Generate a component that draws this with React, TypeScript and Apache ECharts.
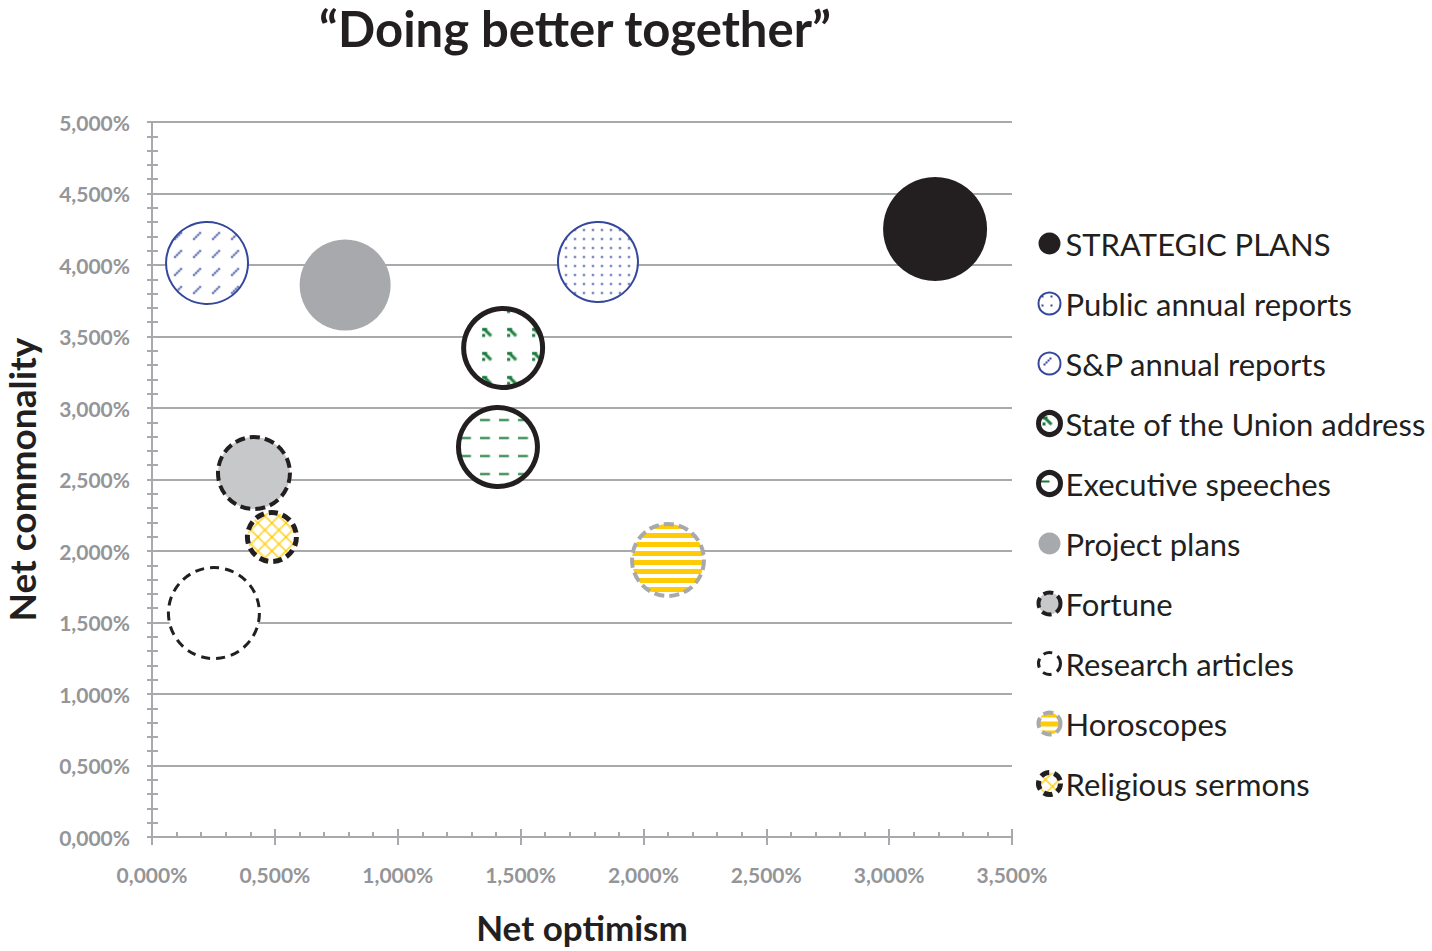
import { useEffect, useRef } from 'react'
import * as echarts from 'echarts'

// one bubble per source
const names = [
  'STRATEGIC PLANS',
  'Public annual reports',
  'S&P annual reports',
  'State of the Union address',
  'Executive speeches',
  'Project plans',
  'Fortune',
  'Research articles',
  'Horoscopes',
  'Religious sermons',
]
const optimism = [3.187, 1.815, 0.224, 1.429, 1.408, 0.786, 0.415, 0.252, 2.1, 0.488]
const commonality = [4.252, 4.021, 4.014, 3.42, 2.727, 3.86, 2.545, 1.566, 1.937, 2.098]
const bubbleSize = [108.2, 64, 67.2, 62.4, 62.4, 82.8, 51.8, 82.8, 51.8, 24]

const xMax = 3.5
const yMax = 5
const step = 0.5

const BLACK = '#231f20'
const GRAY = '#a7a9ac'
const LIGHT = '#c7c8ca'
const BLUE = '#34479c'
const GREEN = '#17793a'
const YELLOW = '#ffcb05'
const AXIS = '#a7a9ac'
const FONT = 'Lato'

const fmt = (v: number) => v.toFixed(3).replace('.', ',') + '%'
const diameter = (s: number) => Math.sqrt(s) * 10

const tile = (w: number, h: number, draw: (ctx: CanvasRenderingContext2D) => void) => {
  const c = document.createElement('canvas')
  c.width = w
  c.height = h
  const ctx = c.getContext('2d')!
  ctx.fillStyle = '#fff'
  ctx.fillRect(0, 0, w, h)
  draw(ctx)
  return c
}

const makeTiles = () => ({
  dots: tile(9, 9, (ctx) => {
    ctx.fillStyle = BLUE
    ctx.fillRect(3, 3, 2, 2)
  }),
  diag: tile(19, 18, (ctx) => {
    ctx.fillStyle = BLUE
    for (let i = 0; i < 4; i++) ctx.fillRect(5 + i * 2, 11 - i * 2, 2, 2)
  }),
  hooks: tile(25, 24, (ctx) => {
    ctx.strokeStyle = GREEN
    ctx.lineWidth = 3
    ctx.beginPath()
    ctx.moveTo(7, 6)
    ctx.lineTo(13, 12)
    ctx.stroke()
    ctx.fillStyle = GREEN
    ctx.fillRect(4, 10, 3, 3)
    ctx.fillRect(4, 4, 5, 3)
  }),
  dashes: tile(19, 18, (ctx) => {
    ctx.fillStyle = GREEN
    ctx.fillRect(1, 8, 10, 2)
  }),
  stripes: tile(4, 9, (ctx) => {
    ctx.fillStyle = YELLOW
    ctx.fillRect(0, 0, 4, 5)
  }),
  cross: tile(14, 14, (ctx) => {
    ctx.strokeStyle = YELLOW
    ctx.lineWidth = 1.4
    ctx.beginPath()
    ctx.moveTo(0, 0)
    ctx.lineTo(14, 14)
    ctx.moveTo(14, 0)
    ctx.lineTo(0, 14)
    ctx.stroke()
  }),
})

// scale undoes the symbol's own scaling so the tile keeps its pixel size
const makeStyles = (t: Record<string, HTMLCanvasElement>, scale: (i: number) => number) => {
  const pat = (c: HTMLCanvasElement, i: number) => ({
    image: c,
    repeat: 'repeat',
    scaleX: scale(i),
    scaleY: scale(i),
  })
  return [
    { color: BLACK },
    { color: pat(t.dots, 1), borderColor: BLUE, borderWidth: 2 },
    { color: pat(t.diag, 2), borderColor: BLUE, borderWidth: 2 },
    { color: pat(t.hooks, 3), borderColor: BLACK, borderWidth: 5 },
    { color: pat(t.dashes, 4), borderColor: BLACK, borderWidth: 5 },
    { color: GRAY },
    { color: LIGHT, borderColor: BLACK, borderWidth: 4, borderType: [10, 5] },
    { color: '#fff', borderColor: BLACK, borderWidth: 3, borderType: [9, 6] },
    { color: pat(t.stripes, 8), borderColor: GRAY, borderWidth: 4, borderType: [10, 5] },
    { color: pat(t.cross, 9), borderColor: BLACK, borderWidth: 5, borderType: [9, 5] },
  ].map((s) => ({ ...s, opacity: 1 }))
}

const App = () => {
  const main = useRef<HTMLDivElement>(null)
  useEffect(() => {
    document.body.style.margin = '0'
    const tiles = makeTiles()
    const styles = makeStyles(tiles, (i) => 2 / diameter(bubbleSize[i]))
    const legendStyles = makeStyles(tiles, () => 1)
    const valueAxis = (max: number) => ({
      type: 'value',
      min: 0,
      max,
      interval: step,
    })
    const option = {
      animation: false,
      graphic: [
        {
          type: 'text',
          x: 575,
          y: 28,
          style: {
            text: '\u201cDoing better together\u201d',
            textAlign: 'center',
            textVerticalAlign: 'middle',
            font: `bold 49px ${FONT}`,
            fill: BLACK,
          },
        },
      ],
      grid: { left: 152, right: 420, top: 122, bottom: 114, outerBoundsMode: 'none', containLabel: false },
      legend: {
        orient: 'vertical',
        left: 1031,
        top: 223,
        itemWidth: 22,
        itemHeight: 22,
        itemGap: 29,
        data: names.map((name, i) => ({ name, itemStyle: legendStyles[i] })),
        textStyle: { fontFamily: FONT, fontSize: 31, color: BLACK, lineHeight: 30 },
      },
      xAxis: [
        {
          ...valueAxis(xMax),
          position: 'bottom',
          name: 'Net optimism',
          nameLocation: 'middle',
          nameGap: 72,
          nameTextStyle: { fontFamily: FONT, fontWeight: 'bold', fontSize: 35, color: BLACK },
          axisLine: { show: true, lineStyle: { color: AXIS, width: 2 } },
          axisTick: { show: true, length: 8, lineStyle: { color: AXIS, width: 2 } },
          axisLabel: {
            formatter: fmt,
            margin: 27,
            fontFamily: FONT,
            fontWeight: 'bold',
            fontSize: 21,
            color: '#939598',
          },
          splitLine: { show: false },
        },
        {
          ...valueAxis(xMax),
          position: 'bottom',
          axisLine: { show: false },
          axisTick: { show: true, inside: true, length: 8, lineStyle: { color: AXIS, width: 2 } },
          minorTick: { show: true, splitNumber: 5, length: 5, lineStyle: { color: AXIS, width: 2 } },
          axisLabel: { show: false },
          splitLine: { show: false },
        },
      ],
      yAxis: [
        {
          ...valueAxis(yMax),
          position: 'left',
          name: 'Net commonality',
          nameLocation: 'middle',
          nameGap: 112,
          nameTextStyle: { fontFamily: FONT, fontWeight: 'bold', fontSize: 37, color: BLACK },
          axisLine: { show: true, lineStyle: { color: AXIS, width: 2 } },
          axisTick: { show: true, length: 5, lineStyle: { color: AXIS, width: 2 } },
          minorTick: { show: true, splitNumber: 5, length: 5, lineStyle: { color: AXIS, width: 2 } },
          axisLabel: {
            formatter: fmt,
            margin: 22,
            fontFamily: FONT,
            fontWeight: 'bold',
            fontSize: 21,
            color: '#939598',
          },
          splitLine: { show: true, lineStyle: { color: AXIS, width: 2 } },
        },
        {
          ...valueAxis(yMax),
          position: 'left',
          axisLine: { show: false },
          axisTick: { show: true, inside: true, length: 6, lineStyle: { color: AXIS, width: 2 } },
          minorTick: { show: true, splitNumber: 5, length: 6, lineStyle: { color: AXIS, width: 2 } },
          axisLabel: { show: false },
          splitLine: { show: false },
        },
      ],
      series: names.map((name, i) => ({
        name,
        type: 'scatter',
        xAxisIndex: 0,
        yAxisIndex: 0,
        symbol: 'circle',
        symbolSize: (v: number[]) => diameter(v[2]),
        itemStyle: styles[i],
        emphasis: { disabled: true },
        data: [[optimism[i], commonality[i], bubbleSize[i]]],
      })),
    }
    const chart = echarts.init(main.current, null, { renderer: 'svg' })
    chart.setOption(option as any)
    return () => {
      chart.dispose()
    }
  }, [])
  return <div ref={main} style={{ width: '1432px', height: '951px' }}></div>
}

export default App
